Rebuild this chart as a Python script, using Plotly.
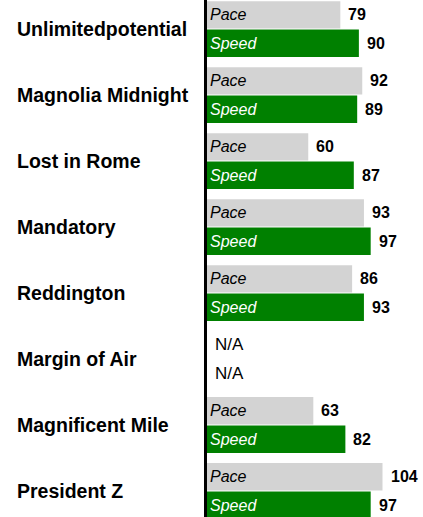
import plotly.graph_objects as go

# Horse names and their two ratings (None = no rating available)
horses = [
    "Unlimitedpotential",
    "Magnolia Midnight",
    "Lost in Rome",
    "Mandatory",
    "Reddington",
    "Margin of Air",
    "Magnificent Mile",
    "President Z",
]
pace = [79, 92, 60, 93, 86, None, 63, 104]
speed = [90, 89, 87, 97, 93, None, 82, 97]

series_names = ["Pace", "Speed"]
bar_colors = ["#d3d3d3", "#008000"]
inner_text_colors = ["black", "white"]

FONT = "Liberation Sans, Arial, sans-serif"
W, H = 423, 517
LEFT = 207
OFFSET = 0.215
BAR_W = 0.415

idx = list(range(len(horses)))
fig = go.Figure()

for k, (name, vals) in enumerate(zip(series_names, [pace, speed])):
    sign = -1 if k == 0 else 1
    ypos = [i + sign * OFFSET for i in idx]
    fig.add_trace(go.Bar(
        x=vals, y=ypos, orientation="h", width=BAR_W,
        marker=dict(color=bar_colors[k], line=dict(width=0)),
        text=[name if v is not None else "" for v in vals],
        textposition="inside", insidetextanchor="start",
        constraintext="none",
        textfont=dict(family=FONT, size=16, style="italic",
                      color=inner_text_colors[k]),
        hoverinfo="skip", showlegend=False,
    ))
    # value labels to the right of each bar
    for v, y in zip(vals, ypos):
        fig.add_annotation(
            x=v if v is not None else 0, xref="x", xanchor="left",
            y=y, yref="y", yanchor="middle", xshift=6,
            text=f"<b>{v}</b>" if v is not None else "N/A",
            showarrow=False,
            font=dict(family=FONT, size=16 if v is not None else 17,
                      color="black"),
        )

# left-aligned horse names
for i, h in enumerate(horses):
    fig.add_annotation(
        x=(15 - LEFT) / (W - LEFT), xref="paper", xanchor="left",
        y=i, yref="y", yanchor="middle",
        text=f"<b>{h}</b>", showarrow=False,
        font=dict(family=FONT, size=19.5, color="black"),
    )

fig.update_layout(
    width=W, height=H,
    margin=dict(l=LEFT, r=0, t=0, b=0),
    paper_bgcolor="white", plot_bgcolor="white",
    barmode="overlay",
    xaxis=dict(range=[0, 128], visible=False, fixedrange=True),
    yaxis=dict(range=[7.394, -0.44], showticklabels=False, ticks="",
               showgrid=False, zeroline=False,
               showline=True, linewidth=3, linecolor="black"),
)

fig.write_html("out.html")
